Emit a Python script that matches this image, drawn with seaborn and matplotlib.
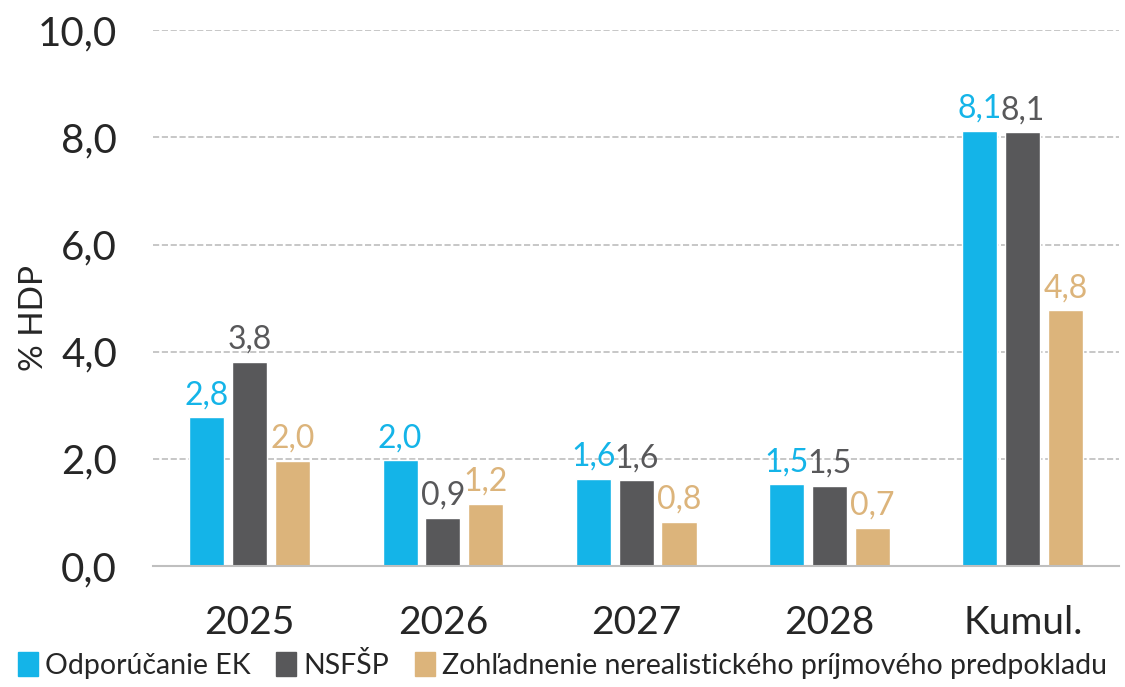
import pandas as pd
import seaborn as sns
import matplotlib.pyplot as plt

##
# data

categories = ['2025', '2026', '2027', '2028', 'Kumul.']
series = ['Odporúčanie EK', 'NSFŠP',
          'Zohľadnenie nerealistického príjmového predpokladu']
ek = [2.78, 1.98, 1.63, 1.53, 8.12]
nsfsp = [3.81, 0.90, 1.60, 1.50, 8.10]
zohl = [1.97, 1.16, 0.83, 0.72, 4.77]
colors = ['#14B4E8', '#58585A', '#DCB47B']

df = pd.DataFrame({
    'rok': categories * 3,
    'hodnota': ek + nsfsp + zohl,
    'seria': [s for s in series for _ in categories],
})

##
# plot

sns.set_style('white')
plt.rcParams['font.family'] = ['Lato', 'DejaVu Sans']

fig = plt.figure(figsize=(11.25, 6.87), dpi=100)
ax = fig.add_axes([0.136, 0.176, 0.859, 0.78])

sns.barplot(data=df, x='rok', y='hodnota', hue='seria', palette=colors,
            saturation=1, width=0.665, ax=ax, legend=False)

# leave a small gap between bars of one group
for patch in ax.patches:
    w = patch.get_width()
    patch.set_x(patch.get_x() + w * 0.09)
    patch.set_width(w * 0.82)

for container, color in zip(ax.containers, colors):
    labels = [f'{b.get_height():.1f}'.replace('.', ',') for b in container]
    ax.bar_label(container, labels=labels, color=color, fontsize=23, padding=5)

ax.set_ylim(0, 10)
ax.set_yticks([0, 2, 4, 6, 8, 10])
ax.set_yticklabels([f'{v:.1f}'.replace('.', ',') for v in ax.get_yticks()])
ax.tick_params(axis='y', labelsize=29, length=0, pad=26)
ax.tick_params(axis='x', labelsize=28, length=0, pad=28)
ax.set_xlabel('')
ax.set_ylabel('% HDP', fontsize=24)
ax.yaxis.set_label_coords(-0.108, 0.463)

for y in [2, 4, 6, 8, 10]:
    ax.axhline(y, color='#BDBDBD', linestyle='--', linewidth=1.2, zorder=0)

for side in ['top', 'right', 'left']:
    ax.spines[side].set_visible(False)
ax.spines['bottom'].set_color('#BFBFBF')
ax.spines['bottom'].set_linewidth(1.5)

handles = [plt.Rectangle((0, 0), 1, 1, color=c) for c in colors]
fig.legend(handles, series, loc='lower center', bbox_to_anchor=(0.5, -0.025),
           ncol=3, frameon=False, fontsize=20.5, handlelength=0.7,
           handleheight=0.9, handletextpad=0.25, columnspacing=0.9)

fig.savefig('out.png', dpi=100)
